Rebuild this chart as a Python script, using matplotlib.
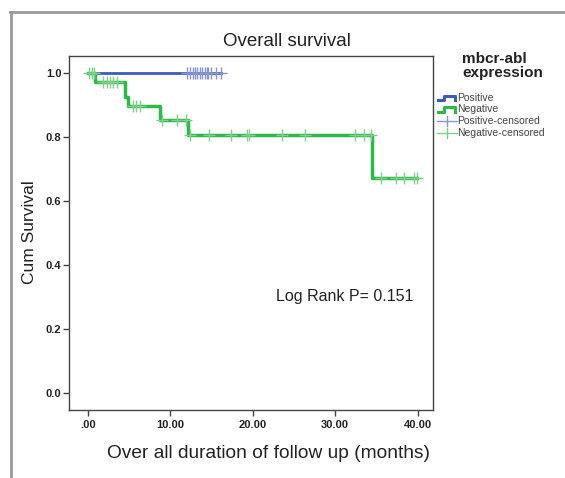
import numpy as np
import matplotlib
matplotlib.use("Agg")
import matplotlib.pyplot as plt
from matplotlib.lines import Line2D

plt.rcParams['font.family'] = ['Liberation Sans', 'DejaVu Sans']

# ---- data ----
neg_step_times = [0.0, 0.9, 4.5, 4.9, 8.8, 12.2, 34.4]
neg_step_surv = [1.0, 0.972, 0.927, 0.897, 0.855, 0.806, 0.672]
neg_censor_times = [0.2, 0.55, 0.8, 1.9, 2.3, 2.7, 3.1, 3.5, 5.45, 5.85, 6.3,
                    9.0, 10.8, 11.9, 12.4, 14.7, 17.4, 19.3, 19.5, 23.6, 26.3,
                    32.4, 33.5, 34.3, 35.6, 37.4, 38.3, 39.6, 39.9]
pos_step_times = [0.0]
pos_step_surv = [1.0]
pos_censor_times = [12.0, 12.4, 12.7, 13.0, 13.3, 13.6, 13.9, 14.2, 14.4, 14.6,
                    15.0, 15.5, 16.2]

x_ticks = [0, 10, 20, 30, 40]
x_tick_labels = ['.00', '10.00', '20.00', '30.00', '40.00']
y_ticks = [0.0, 0.2, 0.4, 0.6, 0.8, 1.0]
y_tick_labels = ['0.0', '0.2', '0.4', '0.6', '0.8', '1.0']
legend_title = 'mbcr-abl\nexpression'
legend_labels = ['Positive', 'Negative', 'Positive-censored', 'Negative-censored']

GREEN = '#2fb84a'
GREEN_C = '#7dd28a'
BLUE = '#3d5cb8'
BLUE_C = '#8696d4'

W, H = 565, 478
fig = plt.figure(figsize=(W / 100, H / 100), dpi=100)

def fx(px):
    return px / W

def fy(py):
    return 1 - py / H

ax = fig.add_axes([fx(69), fy(410), fx(433) - fx(69), fy(55.7) - fy(410)])


def step_curve(times, surv, end):
    xs = list(times) + [end]
    ys = list(surv) + [surv[-1]]
    return xs, ys


def surv_at(times, surv, t):
    s = surv[0]
    for ti, si in zip(times, surv):
        if t >= ti:
            s = si
    return s

# positive
xs, ys = step_curve(pos_step_times, pos_step_surv, max(pos_censor_times))
ax.step(xs, ys, where='post', color=BLUE, lw=2.0, zorder=3)
ax.plot(pos_censor_times, [surv_at(pos_step_times, pos_step_surv, t) for t in pos_censor_times],
        ls='none', marker='+', ms=8.5, mew=1.0, color=BLUE_C, zorder=4)

# negative
xs, ys = step_curve(neg_step_times, neg_step_surv, max(neg_censor_times))
ax.step(xs, ys, where='post', color=GREEN, lw=2.5, zorder=3)
ax.plot(neg_censor_times, [surv_at(neg_step_times, neg_step_surv, t) for t in neg_censor_times],
        ls='none', marker='+', ms=8.5, mew=1.0, color=GREEN_C, zorder=4)

ax.set_xlim(-2.27, 41.85)
ax.set_ylim(-0.053, 1.055)
ax.set_xticks(x_ticks)
ax.set_xticklabels(x_tick_labels)
ax.set_yticks(y_ticks)
ax.set_yticklabels(y_tick_labels)
for sp in ax.spines.values():
    sp.set_color('#444444')
    sp.set_linewidth(1.0)
ax.tick_params(axis='both', length=4.5, width=1.0, color='#444444', direction='out')
ax.tick_params(axis='y', pad=1)
ax.tick_params(axis='x', pad=2.5)
for lab in ax.get_xticklabels() + ax.get_yticklabels():
    lab.set_fontweight('bold')
    lab.set_fontsize(8)
    lab.set_color('#222222')

ax.text(0.569, 0.32, 'Log Rank P= 0.151', transform=ax.transAxes, fontsize=11.5,
        color='#222222', ha='left', va='center')

# titles / labels
fig.text(fx(287), fy(42), 'Overall survival', fontsize=13.5, color='#222222',
         ha='center', va='center')
fig.text(fx(30), fy(232), 'Cum Survival', fontsize=12.5, color='#222222',
         ha='center', va='center', rotation=90)
fig.text(fx(268.5), fy(453), 'Over all duration of follow up (months)', fontsize=13.8,
         color='#222222', ha='center', va='center')

# legend
fig.text(fx(462), fy(66), legend_title, fontsize=11, fontweight='bold', color='#222222',
         ha='left', va='center', linespacing=1.05)
row_y = [97.7, 109.3, 121.0, 132.7]
for i, (lab, y) in enumerate(zip(legend_labels, row_y)):
    fig.text(fx(457), fy(y), lab, fontsize=7.5, color='#444444', ha='left', va='center')
    if i < 2:
        col = BLUE if i == 0 else GREEN
        lx = [438, 444, 444, 455, 455]
        ly = [y + 2.5, y + 2.5, y - 2, y - 2, y + 2.5]
        fig.add_artist(Line2D([fx(v) for v in lx], [fy(v) for v in ly], color=col, lw=2.2))
    else:
        col = BLUE_C if i == 2 else GREEN_C
        fig.add_artist(Line2D([fx(437), fx(457)], [fy(y), fy(y)], color=col, lw=1.0))
        fig.add_artist(Line2D([fx(447), fx(447)], [fy(y - 5), fy(y + 5)], color=col, lw=1.0))

# outer frame
fig.add_artist(Line2D([fx(11), fx(11)], [fy(12), fy(478)], color='#999999', lw=2.0))
fig.add_artist(Line2D([fx(10), fx(565)], [fy(12), fy(12)], color='#999999', lw=2.0))

fig.savefig('out.png', dpi=100)
